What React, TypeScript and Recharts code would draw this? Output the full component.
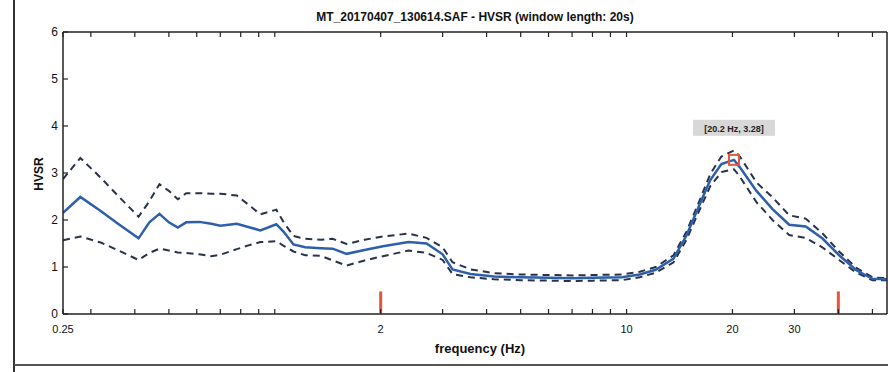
import React from 'react';
import { LineChart, Line, XAxis, YAxis, ReferenceLine, ReferenceDot } from 'recharts';

// frequency samples (Hz) and HVSR curves
const freqs = [
  0.25, 0.28, 0.32, 0.36, 0.41, 0.44, 0.47, 0.5, 0.53, 0.56,
  0.61, 0.66, 0.7, 0.78, 0.85, 0.91, 1.01, 1.06, 1.13, 1.22,
  1.35, 1.46, 1.6, 1.8, 2.03, 2.4, 2.7, 3.0, 3.2, 3.6,
  4.2, 5, 6, 7, 8, 9.7, 10.9, 12.1, 13.6, 14.8,
  16.2, 17.3, 18.6, 20.2, 21, 23.4, 26, 29, 32.3, 36,
  40.2, 45, 50, 55,
];
const hvsrMean = [
  2.15, 2.49, 2.19, 1.91, 1.61, 1.95, 2.13, 1.95, 1.84, 1.95,
  1.96, 1.92, 1.88, 1.92, 1.84, 1.78, 1.91, 1.75, 1.48, 1.42,
  1.4, 1.39, 1.28, 1.36, 1.44, 1.53, 1.5, 1.27, 0.95, 0.85,
  0.8, 0.78, 0.77, 0.76, 0.77, 0.78, 0.84, 0.94, 1.18, 1.67,
  2.36, 2.85, 3.19, 3.28, 3.12, 2.62, 2.23, 1.9, 1.86, 1.61,
  1.25, 0.93, 0.75, 0.74,
];
const hvsrUpper = [
  2.87, 3.32, 2.9, 2.5, 2.07, 2.4, 2.76, 2.62, 2.44, 2.57,
  2.57, 2.56, 2.56, 2.52, 2.3, 2.12, 2.22, 1.95, 1.66, 1.6,
  1.58, 1.6, 1.49, 1.58, 1.65, 1.71, 1.62, 1.42, 1.1, 0.95,
  0.87, 0.84, 0.83, 0.82, 0.83, 0.84, 0.9, 1.0, 1.25, 1.75,
  2.45, 2.98, 3.35, 3.48, 3.35, 2.8, 2.48, 2.1, 2.03, 1.72,
  1.33, 0.98, 0.78, 0.76,
];
const hvsrLower = [
  1.57, 1.65, 1.52, 1.35, 1.15, 1.3, 1.39, 1.35, 1.31, 1.3,
  1.27, 1.23, 1.26, 1.38, 1.47, 1.53, 1.55, 1.45, 1.33, 1.25,
  1.24, 1.14, 1.03, 1.14, 1.23, 1.35, 1.3, 1.15, 0.85, 0.78,
  0.74, 0.72, 0.71, 0.7, 0.71, 0.72, 0.78, 0.88, 1.1, 1.58,
  2.25, 2.72, 3.02, 3.08, 2.92, 2.38, 2.0, 1.68, 1.62, 1.42,
  1.15, 0.88, 0.72, 0.72,
];

const xTicks = [
  0.25, 0.3, 0.4, 0.5, 0.6, 0.7, 0.8, 0.9, 1, 2, 3, 4, 5, 6, 7, 8, 9, 10, 20, 30, 40, 50,
];
const xLabeled = [0.25, 2, 10, 20, 30];
const yTicks = [0, 1, 2, 3, 4, 5, 6];
const limitFreqs = [2, 40];
const peakFreq = 20.2;
const peakValue = 3.28;

const data = freqs.map((f, i) => ({
  f,
  mean: hvsrMean[i],
  upper: hvsrUpper[i],
  lower: hvsrLower[i],
}));

const AXIS = '#222';
const font = 'Arial, "Liberation Sans", Helvetica, sans-serif';

const BottomTick = (props: any) => {
  const { x, y, payload } = props;
  const v = payload.value;
  return (
    <g>
      <line x1={x} x2={x} y1={y} y2={y - 5} stroke={AXIS} strokeWidth={1.2} />
      {xLabeled.includes(v) && (
        <text x={x} y={y + 19} textAnchor="middle" fontSize={11} fill="#111" fontFamily={font}>
          {String(v)}
        </text>
      )}
    </g>
  );
};

const TopTick = (props: any) => {
  const { x, y } = props;
  return <line x1={x} x2={x} y1={y} y2={y + 5} stroke={AXIS} strokeWidth={1.2} />;
};

const LeftTick = (props: any) => {
  const { x, y, payload } = props;
  return (
    <g>
      <line x1={x} x2={x + 5} y1={y} y2={y} stroke={AXIS} strokeWidth={1.2} />
      <text x={x - 5} y={y + 4} textAnchor="end" fontSize={12} fill="#111" fontFamily={font}>
        {payload.value}
      </text>
    </g>
  );
};

const RightTick = (props: any) => {
  const { x, y } = props;
  return <line x1={x} x2={x - 5} y1={y} y2={y} stroke={AXIS} strokeWidth={1.2} />;
};

const PeakMarker = (props: any) => {
  const { cx, cy } = props;
  return (
    <g>
      <rect x={cx - 5} y={cy - 5} width={10} height={10} fill="none" stroke="#e5553a" strokeWidth={2} />
      <rect x={cx - 41} y={cy - 40} width={82} height={16} fill="#d8d8d8" />
      <text x={cx} y={cy - 28} textAnchor="middle" fontSize={9} fontWeight="bold" fill="#222" fontFamily={font}>
        {`[${peakFreq} Hz, ${peakValue}]`}
      </text>
    </g>
  );
};

export default function App() {
  return (
    <div style={{ position: 'absolute', left: 0, top: 0, width: 888, height: 372, background: '#fff', fontFamily: font }}>
      <div style={{ position: 'absolute', left: 13, top: 0, width: 2, height: 372, background: '#333' }} />
      <div style={{ position: 'absolute', left: 14, top: 364, width: 874, height: 1.5, background: '#555' }} />
      <LineChart
        width={888}
        height={372}
        data={data}
        margin={{ top: 31, right: 0, bottom: 57, left: 62 }}
        style={{ position: 'absolute', left: 0, top: 0 }}
      >
        <XAxis
          dataKey="f"
          type="number"
          scale="log"
          domain={[0.25, 55]}
          allowDataOverflow
          ticks={xTicks}
          interval={0}
          height={1}
          tickSize={0}
          tickMargin={0}
          tick={<BottomTick />}
          stroke={AXIS}
          strokeWidth={1.5}
        />
        <XAxis
          xAxisId="top"
          orientation="top"
          dataKey="f"
          type="number"
          scale="log"
          domain={[0.25, 55]}
          allowDataOverflow
          ticks={xTicks}
          interval={0}
          height={1}
          tickSize={0}
          tickMargin={0}
          tick={<TopTick />}
          stroke={AXIS}
          strokeWidth={1.5}
        />
        <YAxis
          type="number"
          domain={[0, 6]}
          ticks={yTicks}
          interval={0}
          width={1}
          tickSize={0}
          tickMargin={0}
          tick={<LeftTick />}
          stroke={AXIS}
          strokeWidth={1.5}
        />
        <YAxis
          yAxisId="right"
          orientation="right"
          type="number"
          domain={[0, 6]}
          ticks={yTicks}
          interval={0}
          width={1}
          tickSize={0}
          tickMargin={0}
          tick={<RightTick />}
          stroke={AXIS}
          strokeWidth={1.5}
        />
        <Line
          type="linear"
          dataKey="upper"
          stroke="#27324c"
          strokeWidth={2}
          strokeDasharray="7 5"
          dot={false}
          isAnimationActive={false}
        />
        <Line
          type="linear"
          dataKey="lower"
          stroke="#27324c"
          strokeWidth={2}
          strokeDasharray="7 5"
          dot={false}
          isAnimationActive={false}
        />
        <Line
          type="linear"
          dataKey="mean"
          stroke="#2d5fab"
          strokeWidth={2.5}
          dot={false}
          isAnimationActive={false}
        />
        {limitFreqs.map((lf) => (
          <ReferenceLine
            key={lf}
            segment={[{ x: lf, y: 0.02 }, { x: lf, y: 0.48 }]}
            stroke="#e5553a"
            strokeWidth={3}
          />
        ))}
        <ReferenceDot x={peakFreq} y={peakValue} shape={<PeakMarker />} />
      </LineChart>
      <div
        style={{
          position: 'absolute', left: 475, top: 10, transform: 'translateX(-50%)',
          fontSize: 12, fontWeight: 'bold', whiteSpace: 'nowrap', color: '#111',
        }}
      >
        MT_20170407_130614.SAF - HVSR (window length: 20s)
      </div>
      <div
        style={{
          position: 'absolute', left: 39, top: 174, transform: 'translate(-50%, -50%) rotate(-90deg)',
          fontSize: 12, fontWeight: 'bold', color: '#111', whiteSpace: 'nowrap',
        }}
      >
        HVSR
      </div>
      <div
        style={{
          position: 'absolute', left: 480, top: 348, transform: 'translate(-50%, -50%)',
          fontSize: 13, fontWeight: 'bold', color: '#111', whiteSpace: 'nowrap',
        }}
      >
        frequency (Hz)
      </div>
    </div>
  );
}
